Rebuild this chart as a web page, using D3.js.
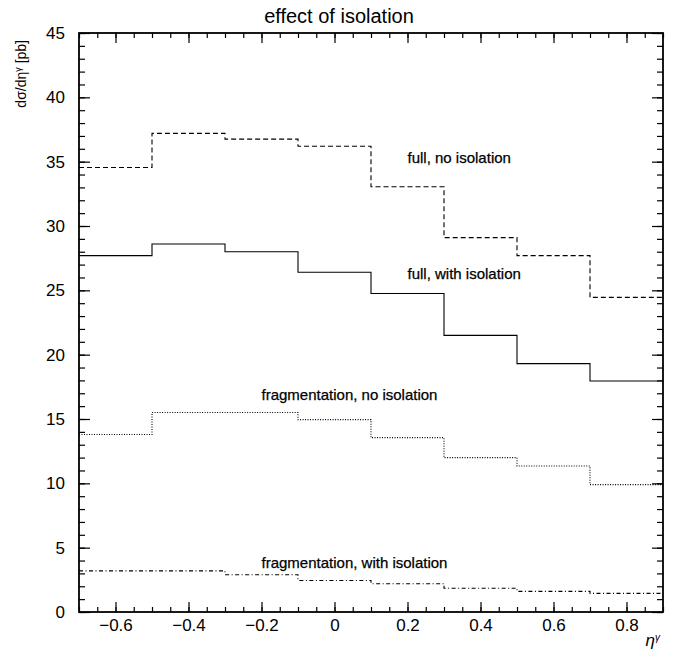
<!DOCTYPE html>
<html>
<head>
<meta charset="utf-8">
<script src="https://cdn.jsdelivr.net/npm/d3@7"></script>
<style>
  body { margin: 0; background: #fff; }
  text { font-family: "Liberation Sans", "DejaVu Sans", sans-serif; fill: #000; }
</style>
</head>
<body>
<div id="chart"></div>
<script>
// effect of isolation - step histograms vs eta

const width = 680,
    height = 658,
    margin = ({ top: 33, right: 17, bottom: 46, left: 79 });

// bin edges in eta
const edges = [-0.7, -0.5, -0.3, -0.1, 0.1, 0.3, 0.5, 0.7, 0.9];

// values per bin (pb)
const fullNoIso = [34.55, 37.2, 36.75, 36.2, 33.05, 29.1, 27.7, 24.45];
const fullIso = [27.7, 28.6, 28.0, 26.4, 24.75, 21.5, 19.3, 17.95];
const fragNoIso = [13.8, 15.5, 15.5, 14.95, 13.55, 12.0, 11.35, 9.9];
const fragIso = [3.2, 3.2, 2.9, 2.45, 2.2, 1.85, 1.6, 1.45];

const xTicks = [-0.6, -0.4, -0.2, 0, 0.2, 0.4, 0.6, 0.8];
const yTicks = [0, 5, 10, 15, 20, 25, 30, 35, 40, 45];

const series = [
  { name: "full, no isolation", values: fullNoIso, dash: "5,3", lx: 0.2, ly: 34.9 },
  { name: "full, with isolation", values: fullIso, dash: null, lx: 0.2, ly: 25.9 },
  { name: "fragmentation, no isolation", values: fragNoIso, dash: "1,1.5", lx: -0.2, ly: 16.5 },
  { name: "fragmentation, with isolation", values: fragIso, dash: "4,2.5,1,2.5", lx: -0.2, ly: 3.4 }
];

const svg = d3.select("#chart")
  .append("svg")
  .attr("width", width)
  .attr("height", height);

const x = d3.scaleLinear()
  .domain([-0.7, 0.9])
  .range([margin.left, width - margin.right]);

const y = d3.scaleLinear()
  .domain([0, 45])
  .range([height - margin.bottom, margin.top]);

// minor ticks
const xMinor = d3.range(-0.7, 0.9001, 0.05).map(d => +d.toFixed(2));
const yMinor = d3.range(0, 46, 1);

const fmtX = d => d === 0 ? "0" : d3.format(".1f")(d);

function styleAxis(g) {
  g.select(".domain").remove();
  g.selectAll("line").attr("stroke", "#000").attr("stroke-width", 1.2);
  g.selectAll("text").attr("font-size", 17).attr("fill", "#000");
}

// bottom
svg.append("g")
  .attr("transform", `translate(0,${height - margin.bottom})`)
  .call(d3.axisBottom(x).tickValues(xMinor).tickSize(-5).tickFormat(""))
  .call(styleAxis);
svg.append("g")
  .attr("transform", `translate(0,${height - margin.bottom})`)
  .call(d3.axisBottom(x).tickValues(xTicks).tickSize(-10).tickPadding(7).tickFormat(fmtX))
  .call(styleAxis);

// top (mirror)
svg.append("g")
  .attr("transform", `translate(0,${margin.top})`)
  .call(d3.axisTop(x).tickValues(xMinor).tickSize(-5).tickFormat(""))
  .call(styleAxis);
svg.append("g")
  .attr("transform", `translate(0,${margin.top})`)
  .call(d3.axisTop(x).tickValues(xTicks).tickSize(-10).tickFormat(""))
  .call(styleAxis);

// left
svg.append("g")
  .attr("transform", `translate(${margin.left},0)`)
  .call(d3.axisLeft(y).tickValues(yMinor).tickSize(-6).tickFormat(""))
  .call(styleAxis);
svg.append("g")
  .attr("transform", `translate(${margin.left},0)`)
  .call(d3.axisLeft(y).tickValues(yTicks).tickSize(-11).tickPadding(14).tickFormat(d3.format("d")))
  .call(styleAxis);

// right (mirror)
svg.append("g")
  .attr("transform", `translate(${width - margin.right},0)`)
  .call(d3.axisRight(y).tickValues(yMinor).tickSize(-6).tickFormat(""))
  .call(styleAxis);
svg.append("g")
  .attr("transform", `translate(${width - margin.right},0)`)
  .call(d3.axisRight(y).tickValues(yTicks).tickSize(-11).tickFormat(""))
  .call(styleAxis);

// frame
svg.append("rect")
  .attr("x", margin.left)
  .attr("y", margin.top)
  .attr("width", width - margin.left - margin.right)
  .attr("height", height - margin.top - margin.bottom)
  .attr("fill", "none")
  .attr("stroke", "#000")
  .attr("stroke-width", 1.8);

// step lines
const line = d3.line()
  .x(d => x(d[0]))
  .y(d => y(d[1]))
  .curve(d3.curveStepAfter);

series.forEach(s => {
  const pts = s.values.map((v, i) => [edges[i], v]);
  pts.push([edges[edges.length - 1], s.values[s.values.length - 1]]);
  svg.append("path")
    .datum(pts)
    .attr("d", line)
    .attr("fill", "none")
    .attr("stroke", "#000")
    .attr("stroke-width", 1.1)
    .attr("stroke-dasharray", s.dash);

  svg.append("text")
    .attr("x", x(s.lx))
    .attr("y", y(s.ly))
    .attr("font-size", 15)
    .attr("stroke", "#000")
    .attr("stroke-width", 0.25)
    .text(s.name);
});

// title
svg.append("text")
  .attr("x", 339)
  .attr("y", 23)
  .attr("text-anchor", "middle")
  .attr("font-size", 20)
  .text("effect of isolation");

// y label
const yl = svg.append("text")
  .attr("transform", "translate(26,40) rotate(-90)")
  .attr("text-anchor", "end")
  .attr("font-size", 14);
yl.append("tspan").text("dσ/dη");
yl.append("tspan").attr("baseline-shift", "super").attr("font-size", 9).text("γ");
yl.append("tspan").text(" [pb]");

// x label
const xl = svg.append("text")
  .attr("x", 660)
  .attr("y", 646)
  .attr("text-anchor", "end")
  .attr("font-size", 17)
  .attr("font-style", "italic");
xl.append("tspan").text("η");
xl.append("tspan").attr("baseline-shift", "super").attr("font-size", 10).text("γ");
</script>
</body>
</html>
